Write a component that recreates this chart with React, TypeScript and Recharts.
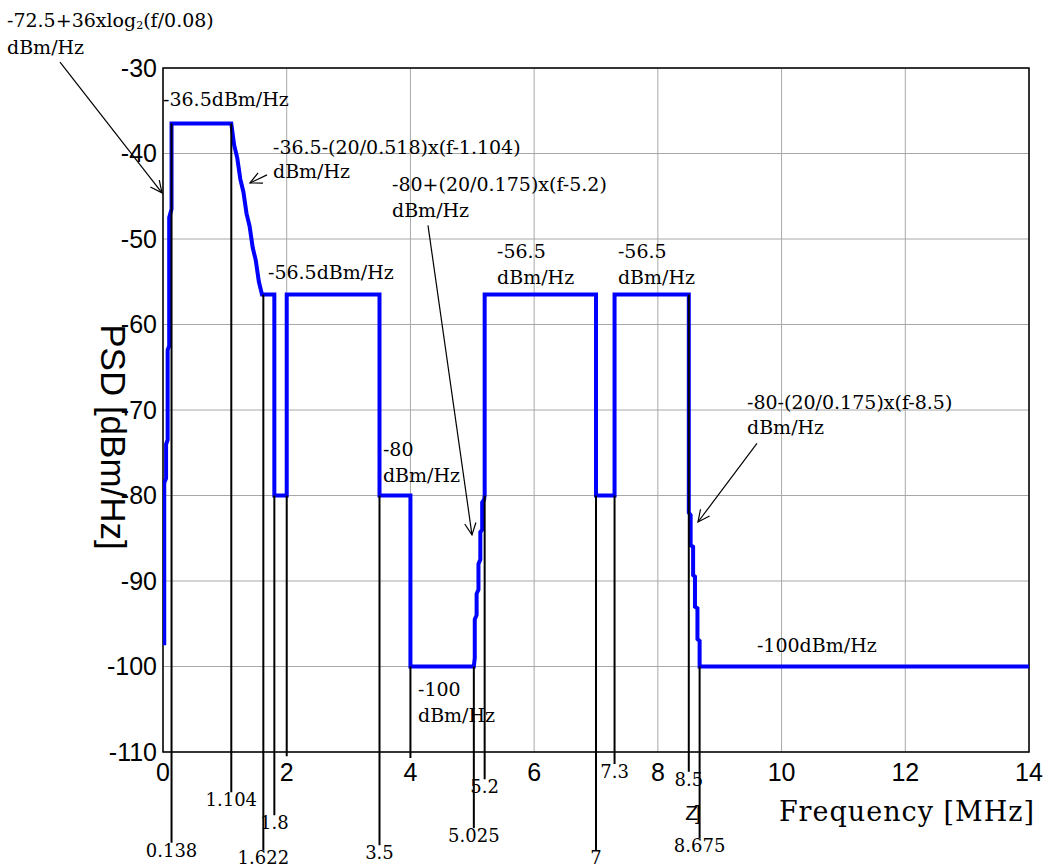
import React from 'react';
import {
  LineChart,
  Line,
  XAxis,
  YAxis,
  CartesianGrid,
  ReferenceLine,
  ReferenceDot,
  ReferenceArea,
} from 'recharts';

// PSD mask breakpoints (MHz / dBm/Hz)
const maskFreq = [
  0.02, 0.02, 0.05, 0.05, 0.075, 0.075, 0.1, 0.1, 0.138, 0.138,
  1.104, 1.15, 1.2, 1.25, 1.3, 1.35, 1.4, 1.45, 1.5, 1.55, 1.6, 1.622,
  1.8, 1.8, 2.0, 2.0, 3.5, 3.5, 4.0, 4.0,
  5.025, 5.04, 5.04, 5.07, 5.07, 5.1, 5.1, 5.13, 5.13, 5.16, 5.16, 5.19, 5.2, 5.2,
  7.0, 7.0, 7.3, 7.3,
  8.5, 8.5, 8.53, 8.53, 8.57, 8.57, 8.6, 8.6, 8.64, 8.64, 8.675, 8.675,
  14,
];
const maskLevel = [
  -97.5, -78.5, -78, -74, -73.5, -63, -62.5, -47.5, -46.5, -36.5,
  -36.5, -39, -40.5, -43, -44.5, -47, -48.5, -51, -52.5, -55, -56.5, -56.5,
  -56.5, -80, -80, -56.5, -56.5, -80, -80, -100,
  -100, -99, -94.5, -94, -91.5, -91, -88, -87.5, -84.3, -84, -80.8, -80.5, -80, -56.5,
  -56.5, -80, -80, -56.5,
  -56.5, -82, -82.3, -85.8, -86, -89.3, -89.5, -93, -93.2, -96.8, -97, -100,
  -100,
];

// vertical marker lines with their labels under the axis
const markFreq = [0.138, 1.104, 1.622, 1.8, 2, 3.5, 4, 5.025, 5.2, 7, 7.3, 8.5, 8.675];
const markTop = [-36.5, -36.5, -56.5, -80, -80, -80, -100, -100, -80, -80, -80, -56.5, -100];
const markEnd = [-120.6, -114.7, -121.5, -117.4, -110.5, -120.9, -110.7, -118.9, -113.2, -121.5, -111.4, -112.3, -120.1];
const markText = ['0.138', '1.104', '1.622', '1.8', '', '3.5', '', '5.025', '5.2', '7', '7.3', '8.5', '8.675'];

const xTicks = [0, 2, 4, 6, 8, 10, 12, 14];
const yTicks = [-110, -100, -90, -80, -70, -60, -50, -40, -30];

// text notes: anchor (left edge, first line centre) in data units
const noteFreq = [-2.522, 0, 1.778, 1.697, 3.702, 5.4, 7.355, 3.556, 9.441, 9.602, 4.122];
const noteLevel = [-24.4, -33.6, -39.2, -53.9, -43.6, -51.4, -51.4, -74.6, -69.1, -97.5, -102.6];
const noteText = [
  ['LOG', 'dBm/Hz'],
  ['-36.5dBm/Hz'],
  ['-36.5-(20/0.518)x(f-1.104)', 'dBm/Hz'],
  ['-56.5dBm/Hz'],
  ['-80+(20/0.175)x(f-5.2)', 'dBm/Hz'],
  ['-56.5', 'dBm/Hz'],
  ['-56.5', 'dBm/Hz'],
  ['-80', 'dBm/Hz'],
  ['-80-(20/0.175)x(f-8.5)', 'dBm/Hz'],
  ['-100dBm/Hz'],
  ['-100', 'dBm/Hz'],
];
const noteGap = [27, 0, 24, 0, 26, 26, 26, 26, 25, 0, 26];

// arrows: tail -> head
const arrowFrom = [[-1.665, -29.3], [1.681, -42.5], [4.284, -48.4], [9.602, -73.9]];
const arrowTo = [[-0.016, -44.6], [1.406, -43.45], [4.995, -84.6], [8.649, -83.1]];

const data = maskFreq.map((f, i) => ({ f, psd: maskLevel[i] }));

const SERIF = '"DejaVu Serif", serif';
const SANS = '"Liberation Sans", Arial, sans-serif';

function Arrow(p: any) {
  const { x1, y1, x2, y2 } = p;
  const a = Math.atan2(y2 - y1, x2 - x1);
  const len = 13;
  const w = 0.45;
  const ax = x2 - len * Math.cos(a - w);
  const ay = y2 - len * Math.sin(a - w);
  const bx = x2 - len * Math.cos(a + w);
  const by = y2 - len * Math.sin(a + w);
  return (
    <g stroke="#000" strokeWidth={1.2} fill="none">
      <line x1={x1} y1={y1} x2={x2} y2={y2} />
      <polyline points={`${ax},${ay} ${x2},${y2} ${bx},${by}`} />
    </g>
  );
}

function noteShape(lines: string[], gap: number) {
  return (p: any) => (
    <text x={p.cx} y={p.cy} fontFamily={SERIF} fontSize={19} fill="#000" dominantBaseline="central">
      {lines.map((t, i) =>
        t === 'LOG' ? (
          <tspan key={i} x={p.cx} y={p.cy}>
            -72.5+36xlog
            <tspan fontSize={11} dy={5}>2</tspan>
            <tspan dy={-5}>(f/0.08)</tspan>
          </tspan>
        ) : (
          <tspan key={i} x={p.cx} y={p.cy + i * gap}>
            {t}
          </tspan>
        )
      )}
    </text>
  );
}

export default function App() {
  return (
    <div style={{ position: 'absolute', left: 0, top: 0, background: '#fff' }}>
      <LineChart
        width={1050}
        height={868}
        data={data}
        margin={{ top: 68, right: 21, bottom: 86, left: 83 }}
      >
        <CartesianGrid stroke="#a8a8a8" strokeWidth={1} />
        <XAxis
          dataKey="f"
          type="number"
          domain={[0, 14]}
          ticks={xTicks}
          allowDataOverflow
          axisLine={false}
          tickLine={false}
          tickSize={0}
          tickMargin={11}
          height={30}
          tick={{ fill: '#000', fontSize: 25, fontFamily: SANS }}
          label={{
            content: (props: any) => {
              const vb = props.viewBox;
              return (
                <text
                  x={vb.x + vb.width + 6}
                  y={vb.y + 69}
                  textAnchor="end"
                  fontFamily={SERIF}
                  fontSize={27}
                  letterSpacing={1}
                  fill="#000"
                >
                  Frequency [MHz]
                </text>
              );
            },
          }}
        />
        <YAxis
          type="number"
          domain={[-110, -30]}
          ticks={yTicks}
          allowDataOverflow
          axisLine={false}
          tickLine={false}
          tickSize={0}
          tickMargin={6}
          width={80}
          tick={{ fill: '#000', fontSize: 25, fontFamily: SANS }}
          label={{
            content: (props: any) => {
              const vb = props.viewBox;
              const cx = vb.x + 30;
              const cy = vb.y + vb.height / 2 + 27;
              return (
                <text
                  x={cx}
                  y={cy}
                  transform={`rotate(90 ${cx} ${cy})`}
                  textAnchor="middle"
                  dominantBaseline="central"
                  fontFamily={SANS}
                  fontSize={35}
                  fill="#000"
                >
                  PSD [dBm/Hz]
                </text>
              );
            },
          }}
        />
        <ReferenceArea x1={0} x2={14} y1={-110} y2={-30} fill="none" stroke="#000" strokeWidth={1.5} />
        <Line
          type="linear"
          dataKey="psd"
          stroke="#0000ff"
          strokeWidth={4}
          dot={false}
          isAnimationActive={false}
        />
        {markFreq.map((f, i) => (
          <ReferenceLine
            key={`m${i}`}
            segment={[
              { x: f, y: markTop[i] },
              { x: f, y: markEnd[i] },
            ]}
            stroke="#000"
            strokeWidth={2}
            ifOverflow="visible"
          />
        ))}
        {markFreq.map((f, i) =>
          markText[i] ? (
            <ReferenceDot
              key={`t${i}`}
              x={f}
              y={markEnd[i]}
              r={0}
              ifOverflow="visible"
              shape={(p: any) => (
                <text
                  x={p.cx}
                  y={p.cy + 14}
                  textAnchor="middle"
                  fontFamily={SERIF}
                  fontSize={18}
                  fill="#000"
                >
                  {markText[i]}
                </text>
              )}
            />
          ) : null
        )}
        {arrowFrom.map((a, i) => (
          <ReferenceLine
            key={`a${i}`}
            segment={[
              { x: a[0], y: a[1] },
              { x: arrowTo[i][0], y: arrowTo[i][1] },
            ]}
            ifOverflow="visible"
            shape={Arrow}
          />
        ))}
        {noteFreq.map((f, i) => (
          <ReferenceDot
            key={`n${i}`}
            x={f}
            y={noteLevel[i]}
            r={0}
            ifOverflow="visible"
            shape={noteShape(noteText[i], noteGap[i])}
          />
        ))}
        <ReferenceDot
          x={8.545}
          y={-117.1}
          r={0}
          ifOverflow="visible"
          shape={(p: any) => (
            <text
              x={p.cx}
              y={p.cy}
              textAnchor="middle"
              dominantBaseline="central"
              fontFamily={SANS}
              fontSize={21}
              letterSpacing={-3}
              fill="#000"
            >
              Z]
            </text>
          )}
        />
      </LineChart>
    </div>
  );
}
